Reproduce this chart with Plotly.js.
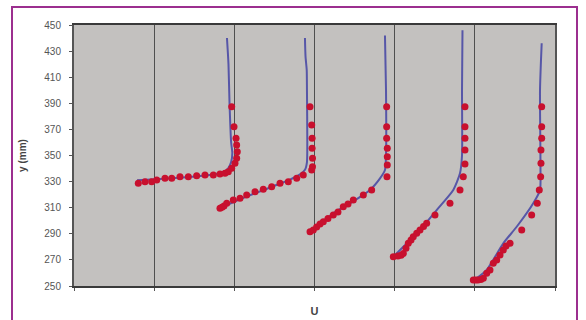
<!DOCTYPE html>
<html>
<head>
<meta charset="utf-8">
<script src="https://cdn.plot.ly/plotly-3.0.1.min.js"></script>
<style>
  html, body { margin: 0; padding: 0; background: #ffffff; overflow: hidden; }
  #chart { position: absolute; left: 0; top: 0; width: 586px; height: 320px; }
  #frame { position: absolute; left: 11px; top: 6px; width: 567px; height: 330px;
           border: 2px solid #9c2f8f; pointer-events: none; box-sizing: border-box; }
</style>
</head>
<body>
<div id="chart"></div>
<div id="frame"></div>
<script>
// ---- Data ----
// Measured velocity profiles (red points), x = U (offset per station), y in mm
const meas1U = [0.802,0.886,0.969,1.032,1.135,1.219,1.322,1.426,1.530,1.634,1.738,1.821,1.884,1.925,1.967,2.008,2.029,2.037,2.029,2.021,1.996,1.967];
const meas1Y = [328.7,329.9,329.9,331.2,332.5,332.5,333.8,333.8,334.5,335.1,335.1,335.8,336.4,337.6,340.2,344.0,347.9,352.9,358.0,363.2,372.1,387.4];

const meas2U = [1.821,1.846,1.871,1.905,1.987,2.071,2.154,2.258,2.361,2.466,2.570,2.673,2.778,2.860,2.965,2.975,2.975,2.970,2.970,2.965,2.944];
const meas2Y = [309.5,310.3,311.3,313.4,315.9,317.2,319.7,322.3,324.1,326.1,328.7,329.9,332.5,335.0,338.9,341.4,347.9,355.5,363.2,373.4,387.4];

const meas3U = [2.944,2.985,3.027,3.069,3.110,3.168,3.234,3.293,3.359,3.418,3.484,3.609,3.713,3.904,3.908,3.908,3.908,3.900,3.900,3.900];
const meas3Y = [291.6,292.9,295.2,297.5,299.3,301.7,304.4,306.7,310.8,312.8,315.9,319.7,323.6,333.8,342.7,349.1,355.5,363.2,372.1,387.4];

const meas4U = [3.983,4.041,4.080,4.108,4.141,4.170,4.204,4.232,4.275,4.316,4.360,4.399,4.503,4.690,4.815,4.856,4.877,4.877,4.877,4.877,4.877];
const meas4Y = [272.4,273.0,273.5,275.0,279.0,282.7,285.2,287.8,290.4,292.9,295.5,298.0,304.4,313.4,323.6,333.8,343.5,354.2,363.2,372.1,387.4];

const meas5U = [4.981,5.010,5.039,5.075,5.106,5.148,5.189,5.230,5.273,5.314,5.355,5.389,5.439,5.585,5.709,5.779,5.804,5.821,5.825,5.825,5.834,5.834,5.834];
const meas5Y = [254.6,254.6,254.6,255.0,255.9,259.7,262.3,267.4,269.9,273.8,277.6,280.6,282.7,292.9,304.4,313.4,323.6,333.8,344.0,354.2,363.2,372.1,387.4];

// Computed profiles (blue lines)
const calc1U = [0.786,1.073,1.447,1.696,1.846,1.921,1.960,1.975,1.960,1.940,1.927,1.908];
const calc1Y = [331.0,332.0,333.5,335.0,337.0,340.0,345.0,352.0,360.0,390.0,420.0,440.0];

const calc2U = [1.796,2.071,2.445,2.694,2.819,2.881,2.906,2.910,2.906,2.903,2.888,2.881];
const calc2Y = [309.0,316.5,325.5,331.5,335.5,339.0,345.0,360.0,400.0,415.5,426.0,440.0];

const calc3U = [2.969,3.234,3.443,3.692,3.817,3.879,3.892,3.892,3.879];
const calc3Y = [292.0,305.7,313.4,323.6,332.5,338.9,350.0,400.0,442.0];

const calc4U = [3.983,4.108,4.316,4.524,4.731,4.815,4.840,4.840,4.846];
const calc4Y = [272.4,280.1,292.9,308.2,323.6,336.4,350.0,400.0,446.0];

const calc5U = [5.023,5.148,5.355,5.522,5.729,5.813,5.819,5.813,5.834];
const calc5Y = [255.9,262.3,282.7,295.4,313.4,323.6,340.0,400.0,436.0];

const yTicks = [250,270,290,310,330,350,370,390,410,430,450];
const xGrid = [0,1,2,3,4,5,6];

// ---- Traces ----
const lineColor = '#5656a8';
const markColor = '#c8102e';
const calcU = [calc1U, calc2U, calc3U, calc4U, calc5U];
const calcY = [calc1Y, calc2Y, calc3Y, calc4Y, calc5Y];
const measU = [meas1U, meas2U, meas3U, meas4U, meas5U];
const measY = [meas1Y, meas2Y, meas3Y, meas4Y, meas5Y];

const traces = [];
for (let i = 0; i < 5; i++) {
  traces.push({
    x: calcU[i], y: calcY[i], type: 'scatter', mode: 'lines',
    line: { color: lineColor, width: 2, shape: 'spline', smoothing: 0.6 },
    hoverinfo: 'skip', showlegend: false
  });
}
for (let i = 0; i < 5; i++) {
  traces.push({
    x: measU[i], y: measY[i], type: 'scatter', mode: 'markers',
    marker: { color: markColor, size: 7, line: { width: 0 } },
    hoverinfo: 'skip', showlegend: false
  });
}

const layout = {
  width: 586, height: 320,
  margin: { l: 74, r: 31, t: 25, b: 34, pad: 0 },
  paper_bgcolor: 'rgba(0,0,0,0)',
  plot_bgcolor: '#c3c1bf',
  font: { family: 'Arial, Liberation Sans, sans-serif', size: 10, color: '#4a4a4a' },
  showlegend: false,
  xaxis: {
    range: [0, 6], tickvals: xGrid, showticklabels: false,
    ticks: 'outside', ticklen: 3, tickcolor: '#555', tickwidth: 1,
    showgrid: true, gridcolor: '#4f4f4f', gridwidth: 1.3,
    showline: true, linecolor: '#3a3a3a', linewidth: 2, mirror: true,
    zeroline: false, fixedrange: true,
    title: { text: 'U', font: { size: 11, color: '#444', weight: 'bold' }, standoff: 17 }
  },
  yaxis: {
    range: [250, 450], tickvals: yTicks, ticktext: yTicks.map(String),
    ticks: 'outside', ticklen: 3, tickcolor: '#555', tickwidth: 1,
    ticklabelstandoff: 6,
    showgrid: false, showline: true, linecolor: '#555', linewidth: 2, mirror: true,
    zeroline: false, fixedrange: true,
    tickfont: { size: 10, color: '#555' },
    title: { text: 'y (mm)', font: { size: 10, color: '#444', weight: 'bold' }, standoff: 16 }
  }
};

Plotly.newPlot('chart', traces, layout, { staticPlot: true, displayModeBar: false });
</script>
</body>
</html>
